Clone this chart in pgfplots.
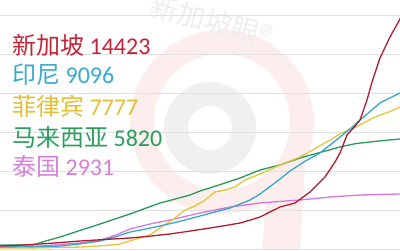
\documentclass[border=0pt]{standalone}
\usepackage{pgfplots}
\pgfplotsset{compat=1.18}
\usepackage{fontspec}
\setmainfont{Carlito}
\newfontfamily\cjk{Noto Sans CJK SC}

\definecolor{sgred}{RGB}{180,28,46}
\definecolor{idblue}{RGB}{52,168,204}
\definecolor{phyellow}{RGB}{232,196,58}
\definecolor{mygreen}{RGB}{40,155,92}
\definecolor{thpink}{RGB}{214,120,222}
\definecolor{lblred}{RGB}{196,36,56}
\definecolor{lblblue}{RGB}{56,170,206}
\definecolor{lblyellow}{RGB}{226,192,52}
\definecolor{lblgreen}{RGB}{44,158,96}
\definecolor{lblpink}{RGB}{214,128,216}
\definecolor{gridgray}{RGB}{224,224,224}
\definecolor{wmpink}{RGB}{253,238,238}
\definecolor{wmgray}{RGB}{240,240,240}

\begin{document}
\begin{tikzpicture}[x=1pt,y=1pt]
\useasboundingbox (0,0) rectangle (400,250);
% faint logo watermark behind the chart
\fill[wmpink] (222,128) circle (92);
\fill[wmpink] (262,0) -- (300,0) -- (306,100) -- (270,100) -- cycle;
\fill[white] (222,128) circle (68);
\fill[wmgray] (210,122) circle (46);
\fill[white] (210,122) circle (22);
\node[rotate=-15, text=gray!13, font=\cjk\fontsize{28}{32}\selectfont] at (212,229) {新加坡眼®};
\begin{axis}[
  at={(0,0)}, anchor=south west,
  width=400pt, height=250pt, scale only axis,
  xmin=0, xmax=400, ymin=-51, ymax=12769,
  axis line style={draw=none},
  xtick=\empty,
  ytick={0,2000,...,12000}, yticklabels={},
  major tick length=0pt,
  ymajorgrids, grid style={gridgray, line width=0.8pt},
  clip=true,
  every axis plot/.append style={line width=1.3pt, line join=round, no markers},
]
% Thailand
\addplot[thpink] coordinates {
(0,100) (40,150) (80,310) (100,450) (115,700) (130,1025) (150,1282)
(170,1487) (200,1846) (230,2154) (260,2359) (280,2440) (300,2513)
(330,2667) (360,2769) (380,2800) (400,2820) (430,2931)};
% Malaysia
\addplot[mygreen] coordinates {
(0,205) (33,205) (45,400) (60,615) (80,950) (100,1282) (115,1540)
(130,1795) (145,2080) (160,2359) (175,2560) (190,2769) (200,2974)
(220,3300) (240,3641) (260,4050) (280,4308) (300,4667) (320,4950)
(340,5231) (355,5400) (370,5487) (385,5570) (400,5641) (436,5820)};
% Philippines
\addplot[phyellow] coordinates {
(0,50) (40,60) (80,100) (105,180) (120,256) (130,420) (140,564)
(150,718) (160,1077) (168,1350) (175,1590) (185,2000) (195,2205)
(205,2513) (215,2923) (225,3026) (235,3180) (245,3538) (260,3846)
(280,4308) (300,4718) (315,5150) (330,5590) (340,5900) (350,6154)
(360,6359) (375,6769) (390,7050) (400,7282) (425,7777)};
% Indonesia
\addplot[idblue] coordinates {
(0,100) (30,120) (60,150) (80,260) (100,410) (115,620) (130,870)
(145,1020) (160,1180) (180,1420) (200,1692) (215,1900) (230,2100)
(250,2513) (260,2820) (270,3200) (280,3590) (290,4000) (305,4500)
(320,4923) (330,5330) (340,5743) (350,6150) (360,6615) (370,7050)
(380,7487) (390,7750) (400,8000) (442,9096)};
% Singapore
\addplot[sgred] coordinates {
(0,150) (20,200) (40,256) (60,330) (80,410) (105,490) (130,564)
(150,660) (170,770) (190,920) (210,1077) (225,1200) (240,1333)
(250,1480) (260,1641) (270,1900) (280,2154) (295,2359) (310,2923)
(325,3692) (335,4461) (340,4923) (347,5846) (355,6300) (360,6615)
(367,7641) (372,8564) (380,9795) (390,10872) (400,11795) (428,14423)};
% labels with latest totals
\begin{scope}[every node/.style={anchor=west, inner sep=0pt,
    font=\fontsize{24}{28}\selectfont}]
\node[text=lblred]    at (rel axis cs:0.03,0.820) {{\cjk 新加坡} 14423};
\node[text=lblblue]   at (rel axis cs:0.03,0.700) {{\cjk 印尼} 9096};
\node[text=lblyellow] at (rel axis cs:0.03,0.576) {{\cjk 菲律宾} 7777};
\node[text=lblgreen]  at (rel axis cs:0.03,0.452) {{\cjk 马来西亚} 5820};
\node[text=lblpink]   at (rel axis cs:0.03,0.336) {{\cjk 泰国} 2931};
\end{scope}
\end{axis}
\end{tikzpicture}
\end{document}
